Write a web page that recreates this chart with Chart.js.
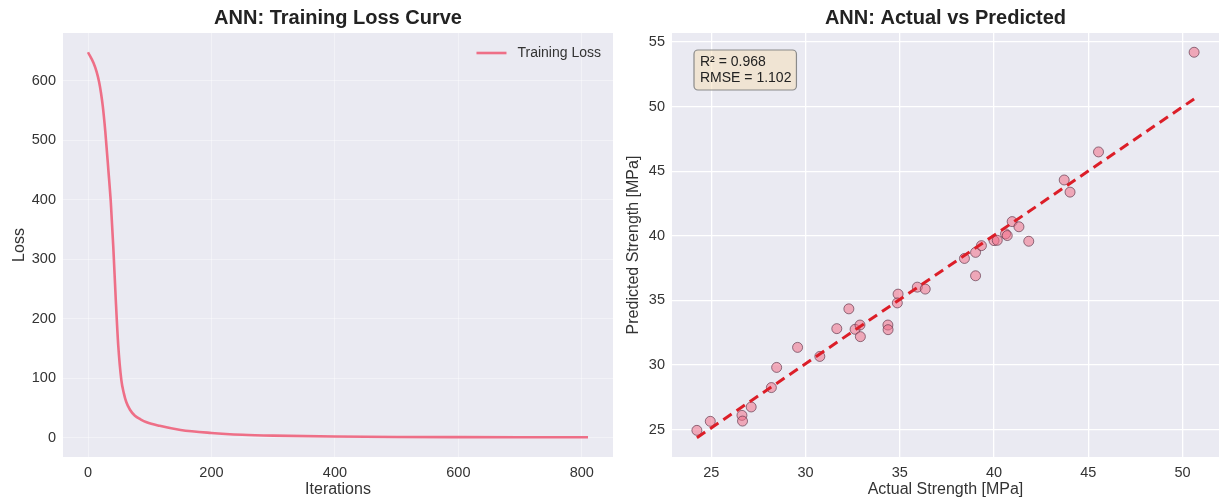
<!DOCTYPE html>
<html>
<head>
<meta charset="utf-8">
<title>ANN results</title>
<script src="https://cdn.jsdelivr.net/npm/chart.js@4.4.1/dist/chart.umd.min.js"></script>
<style>
  body { margin: 0; background: #fff; }
  #wrap { position: relative; width: 1225px; height: 503px; }
  #lossBox { position: absolute; left: 0; top: 0; width: 620px; height: 503px; }
  #scatterBox { position: absolute; left: 612px; top: 0; width: 613px; height: 503px; }
</style>
</head>
<body>
<div id="wrap">
  <div id="lossBox"><canvas id="lossChart" width="620" height="503"></canvas></div>
  <div id="scatterBox"><canvas id="scatterChart" width="613" height="503"></canvas></div>
</div>
<script>
// training loss
const iterations = [0, 9, 14, 18, 21, 24, 28, 33, 37, 41, 45, 49, 54, 58, 62, 68, 76, 85, 95, 116, 150, 200, 250, 300, 400, 500, 600, 700, 810];
const lossValues = [648, 630, 615, 598, 580, 557, 515, 450, 395, 320, 232, 155, 97, 75, 60, 47, 37, 31, 26, 20, 13, 8, 5, 3.5, 2, 1.3, 1, 0.8, 0.7];
const iterTicks = [0, 200, 400, 600, 800];
const lossTicks = [0, 100, 200, 300, 400, 500, 600];

// actual vs predicted strength [MPa]
const actualStrength = [24.24, 24.95, 26.63, 26.66, 27.12, 28.19, 28.47, 29.58, 30.76, 31.66,
  32.3, 32.63, 32.89, 32.91, 34.37, 34.38, 34.91, 34.87, 35.93, 36.35,
  38.43, 39.02, 39.02, 39.33, 40.0, 40.17, 40.61, 40.7, 40.96, 41.32,
  41.84, 43.72, 44.03, 45.54, 50.61];
const predictedStrength = [24.95, 25.65, 26.11, 25.67, 26.76, 28.26, 29.82, 31.37, 30.67, 32.82,
  34.35, 32.77, 33.1, 32.2, 33.1, 32.74, 35.49, 34.81, 36.03, 35.88,
  38.25, 38.72, 36.91, 39.24, 39.63, 39.65, 40.15, 40.02, 41.1, 40.7,
  39.58, 44.32, 43.38, 46.49, 54.2];
const fitX = [24.24, 50.61];
const fitY = [24.38, 50.59];
const strengthXTicks = [25, 30, 35, 40, 45, 50];
const strengthYTicks = [25, 30, 35, 40, 45, 50, 55];
const r2 = 0.968;
const rmse = 1.102;

Chart.defaults.font.family = "'Liberation Sans', Arial, sans-serif";
Chart.defaults.color = "#333";

const plotBackground = {
  id: "plotBackground",
  beforeDraw(chart) {
    const a = chart.chartArea;
    const ctx = chart.ctx;
    ctx.save();
    ctx.fillStyle = "#eaeaf2";
    ctx.fillRect(a.left, a.top, a.right - a.left, a.bottom - a.top);
    ctx.restore();
  },
};

// legend drawn inside the plot, top right
const innerLegend = {
  id: "innerLegend",
  afterDraw(chart) {
    const a = chart.chartArea;
    const ctx = chart.ctx;
    const ds = chart.data.datasets[0];
    ctx.save();
    ctx.font = "14px 'Liberation Sans', Arial, sans-serif";
    const textW = ctx.measureText(ds.label).width;
    const textX = a.right - 12 - textW;
    const y = a.top + 20;
    ctx.strokeStyle = ds.borderColor;
    ctx.lineWidth = ds.borderWidth;
    ctx.beginPath();
    ctx.moveTo(textX - 41, y);
    ctx.lineTo(textX - 11, y);
    ctx.stroke();
    ctx.fillStyle = "#333";
    ctx.textBaseline = "middle";
    ctx.fillText(ds.label, textX, y);
    ctx.restore();
  },
};

const statsBox = {
  id: "statsBox",
  afterDraw(chart) {
    const a = chart.chartArea;
    const ctx = chart.ctx;
    const line1 = "R² = " + r2.toFixed(3);
    const line2 = "RMSE = " + rmse.toFixed(3);
    ctx.save();
    ctx.font = "14px 'Liberation Sans', Arial, sans-serif";
    const w = Math.max(ctx.measureText(line1).width, ctx.measureText(line2).width) + 11;
    const x = a.left + 22;
    const y = a.top + 17;
    ctx.beginPath();
    ctx.roundRect(x, y, w, 40, 4);
    ctx.fillStyle = "rgba(245,222,179,0.5)";
    ctx.fill();
    ctx.strokeStyle = "#8a8a8a";
    ctx.lineWidth = 1.2;
    ctx.stroke();
    ctx.fillStyle = "#222";
    ctx.textBaseline = "middle";
    ctx.fillText(line1, x + 6, y + 12);
    ctx.fillText(line2, x + 6, y + 28);
    ctx.restore();
  },
};

function fixedTicks(values) {
  return function (scale) {
    scale.ticks = values.map((v) => ({ value: v }));
  };
}

function renderLossChart() {
  new Chart(document.getElementById("lossChart"), {
    type: "line",
    data: {
      datasets: [
        {
          label: "Training Loss",
          data: iterations.map((it, i) => ({ x: it, y: lossValues[i] })),
          borderColor: "#ee6f87",
          backgroundColor: "#ee6f87",
          borderWidth: 2.6,
          pointRadius: 0,
          cubicInterpolationMode: "monotone",
          fill: false,
        },
      ],
    },
    options: {
      responsive: false,
      animation: false,
      layout: { padding: { left: 0, right: 7, top: 0, bottom: 0 } },
      plugins: {
        title: {
          display: true,
          fullSize: false,
          text: "ANN: Training Loss Curve",
          color: "#222",
          font: { size: 20, weight: "bold" },
          padding: { top: 6, bottom: 3 },
        },
        legend: { display: false },
        tooltip: { enabled: false },
      },
      scales: {
        x: {
          type: "linear",
          min: -40.5,
          max: 850.5,
          afterBuildTicks: fixedTicks(iterTicks),
          afterFit: (s) => { s.height = 46; },
          grid: { color: "rgba(255,255,255,0.4)", drawTicks: false },
          border: { display: false },
          ticks: { padding: 7, color: "#333", font: { size: 14.5 }, maxRotation: 0 },
          title: { display: true, text: "Iterations", color: "#333", font: { size: 16 }, padding: { top: 0, bottom: 4 } },
        },
        y: {
          type: "linear",
          min: -32.4,
          max: 680.4,
          afterBuildTicks: fixedTicks(lossTicks),
          afterFit: (s) => { s.width = 63; },
          grid: { color: "rgba(255,255,255,0.4)", drawTicks: false },
          border: { display: false },
          ticks: { padding: 7, color: "#333", font: { size: 14.5 } },
          title: { display: true, text: "Loss", color: "#333", font: { size: 16 }, padding: { top: 10, bottom: 0 } },
        },
      },
    },
    plugins: [plotBackground, innerLegend],
  });
}

function renderScatterChart() {
  new Chart(document.getElementById("scatterChart"), {
    type: "scatter",
    data: {
      datasets: [
        {
          type: "line",
          label: "Fit",
          data: fitX.map((x, i) => ({ x: x, y: fitY[i] })),
          borderColor: "#dc1e28",
          borderWidth: 3,
          borderDash: [10, 6],
          pointRadius: 0,
          fill: false,
        },
        {
          label: "Samples",
          data: actualStrength.map((x, i) => ({ x: x, y: predictedStrength[i] })),
          backgroundColor: "rgba(240,112,136,0.55)",
          borderColor: "rgba(90,50,70,0.65)",
          borderWidth: 1,
          pointRadius: 5,
        },
      ],
    },
    options: {
      responsive: false,
      animation: false,
      layout: { padding: { left: 0, right: 2, top: 0, bottom: 0 } },
      plugins: {
        title: {
          display: true,
          fullSize: false,
          text: "ANN: Actual vs Predicted",
          color: "#222",
          font: { size: 20, weight: "bold" },
          padding: { top: 6, bottom: 3 },
        },
        legend: { display: false },
        tooltip: { enabled: false },
      },
      scales: {
        x: {
          type: "linear",
          min: 22.92,
          max: 51.93,
          afterBuildTicks: fixedTicks(strengthXTicks),
          afterFit: (s) => { s.height = 46; },
          grid: { color: "#ffffff", lineWidth: 1.3, drawTicks: false },
          border: { display: false },
          ticks: { padding: 7, color: "#333", font: { size: 14.5 }, maxRotation: 0 },
          title: { display: true, text: "Actual Strength [MPa]", color: "#333", font: { size: 16 }, padding: { top: 0, bottom: 4 } },
        },
        y: {
          type: "linear",
          min: 22.89,
          max: 55.69,
          afterBuildTicks: fixedTicks(strengthYTicks),
          afterFit: (s) => { s.width = 60; },
          grid: { color: "#ffffff", lineWidth: 1.3, drawTicks: false },
          border: { display: false },
          ticks: { padding: 7, color: "#333", font: { size: 14.5 } },
          title: { display: true, text: "Predicted Strength [MPa]", color: "#333", font: { size: 16 }, padding: { top: 12, bottom: 0 } },
        },
      },
    },
    plugins: [plotBackground, statsBox],
  });
}

renderLossChart();
renderScatterChart();
</script>
</body>
</html>
